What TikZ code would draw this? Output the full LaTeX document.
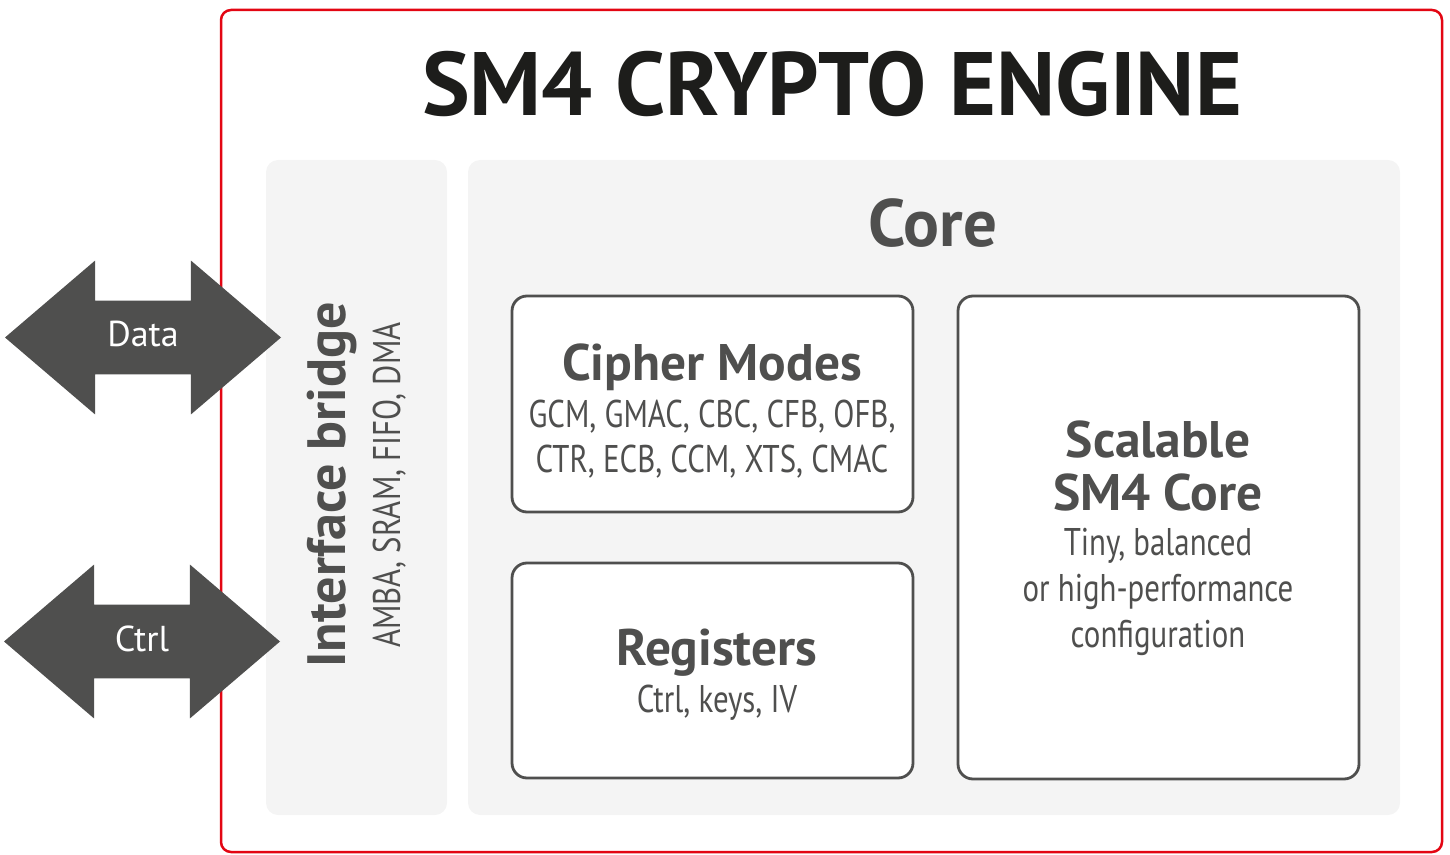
\documentclass[tikz,border=0pt]{standalone}
\usepackage{fontspec}
\setmainfont{PT Sans}
\newfontfamily\narrowfont[FakeStretch=0.8]{PT Sans}
\usetikzlibrary{shapes.arrows, positioning}
\definecolor{framered}{HTML}{E30613}
\definecolor{darkgrey}{HTML}{4F4F4E}
\definecolor{panelgrey}{HTML}{F4F4F4}
\definecolor{titleblack}{HTML}{1D1D1B}
\tikzstyle{frame} = [rectangle, rounded corners=5pt, draw=framered, line width=1.25pt, inner sep=0pt]
\tikzstyle{panel} = [rectangle, rounded corners=6pt, fill=panelgrey, inner sep=0pt]
\tikzstyle{block} = [rectangle, rounded corners=7.5pt, draw=darkgrey, line width=1.4pt, fill=white, inner sep=0pt, minimum width=200.5pt]
\tikzstyle{bus} = [double arrow, fill=darkgrey, text=white, double arrow tip angle=81, double arrow head extend=20pt, minimum height=138pt, inner xsep=0pt, inner ysep=0pt, text height=23pt, text depth=13.5pt, font=\fontsize{18}{20}\selectfont]
\tikzstyle{heading} = [anchor=base, text=darkgrey, inner sep=0pt, font=\bfseries\fontsize{25.7}{30}\selectfont]
\tikzstyle{detail} = [anchor=base, text=darkgrey, inner sep=0pt, align=center, font=\narrowfont\fontsize{19.3}{22.5}\selectfont]

\begin{document}
\begin{tikzpicture}[x=0.5pt, y=-0.5pt]
	\useasboundingbox (0,0) rectangle (1450,855);
	% outer frame and panels
	\node (frame) [frame, minimum width=610.5pt, minimum height=421pt] at (831.5,431) {};
	\node (bridge) [panel, minimum width=90.5pt, minimum height=327.5pt] at (356.5,487.5) {};
	\node (core) [panel, minimum width=466pt, minimum height=327.5pt] at (934,487.5) {};
	\node (modes) [block, minimum height=108pt] at (712.5,404) {};
	\node (regs) [block, minimum height=107.5pt] at (712.5,670.5) {};
	\node (sm4) [block, minimum height=241.5pt] at (1158.5,537.5) {};
	% buses
	\node (data) [bus] at (143,337.5) {Data};
	\node (ctrl) [bus] at (142,641.5) {Ctrl};
	% texts (base anchor = last line)
	\node (title) [anchor=base, text=titleblack, inner sep=0pt, font=\bfseries\fontsize{45}{50}\selectfont] at (832,116) {SM4 CRYPTO ENGINE};
	\node (coretitle) [heading, font=\bfseries\fontsize{33.5}{38}\selectfont] at (933,247) {Core};
	\node (bridgetitle) [heading, rotate=90, font=\bfseries\fontsize{27}{30}\selectfont] at (345,485) {Interface bridge};
	\node (bridgetext) [detail, rotate=90] at (400,485) {AMBA, SRAM, FIFO, DMA};
	\node (modestitle) [heading] at (712,380) {Cipher Modes};
	\node (modestext) [detail] at (712,472) {GCM, GMAC, CBC, CFB, OFB,\\CTR, ECB, CCM, XTS, CMAC};
	\node (regstitle) [heading] at (717,665) {Registers};
	\node (regstext) [detail] at (717,712) {Ctrl, keys, IV};
	\node (sm4title) [heading, align=center, font=\bfseries\fontsize{25.7}{26.5}\selectfont] at (1158,510) {Scalable\\SM4 Core};
	\node (sm4text) [detail, font=\narrowfont\fontsize{19.3}{23}\selectfont] at (1158,647) {Tiny, balanced\\or high-performance\\configuration};
\end{tikzpicture}
\end{document}
